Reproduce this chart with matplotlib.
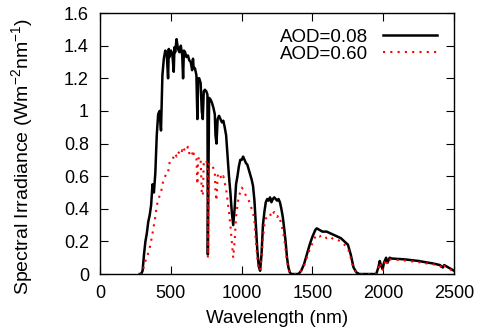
import matplotlib
matplotlib.use("Agg")
from matplotlib import pyplot as plt
from matplotlib.ticker import FuncFormatter

plt.rcParams['font.family'] = ['Liberation Sans', 'DejaVu Sans']
plt.rcParams['mathtext.fontset'] = 'custom'
plt.rcParams['mathtext.rm'] = 'Liberation Sans'
plt.rcParams['mathtext.it'] = 'Liberation Sans:italic'
plt.rcParams['mathtext.default'] = 'regular'

# AOD = 0.08
wl_clear = [280, 290, 300, 310, 320, 330, 340, 350, 360, 370, 380, 390, 400, 410, 420, 430, 440, 450,
            460, 470, 480, 485, 490, 500, 510, 520, 525, 530, 540, 550, 560, 570, 580, 586, 592, 600,
            610, 620, 630, 640, 650, 656, 660, 670, 680, 687, 692, 700, 710, 718, 725, 732, 740, 750,
            758, 761, 765, 770, 780, 790, 800, 810, 815, 822, 830, 840, 850, 860, 870, 880, 890, 900,
            910, 920, 930, 940, 950, 960, 970, 980, 990, 1000, 1010, 1020, 1030, 1040, 1050, 1060,
            1070, 1080, 1090, 1100, 1110, 1120, 1130, 1140, 1150, 1160, 1170, 1180, 1190, 1200, 1210,
            1220, 1230, 1240, 1250, 1260, 1270, 1280, 1290, 1300, 1310, 1320, 1330, 1340, 1350, 1400,
            1420, 1440, 1460, 1480, 1500, 1520, 1530, 1550, 1570, 1600, 1625, 1650, 1675, 1700, 1725,
            1750, 1770, 1790, 1810, 1830, 1950, 1965, 1975, 1985, 1995, 2005, 2020, 2030, 2045, 2060,
            2100, 2150, 2200, 2250, 2300, 2350, 2400, 2420, 2430, 2450, 2480, 2500]
irr_clear = [0, 0, 0.02, 0.12, 0.2, 0.25, 0.32, 0.36, 0.42, 0.55, 0.5, 0.62, 0.85, 0.98, 1.0, 0.88, 1.22, 1.32,
             1.37, 1.36, 1.2, 1.38, 1.33, 1.37, 1.35, 1.24, 1.39, 1.36, 1.44, 1.38, 1.36, 1.4, 1.34, 1.2, 1.37, 1.36,
             1.33, 1.34, 1.31, 1.3, 1.25, 1.32, 1.27, 1.26, 1.22, 0.95, 1.2, 1.2, 1.17, 1.0, 0.95, 1.12, 1.13, 1.12,
             1.1, 0.12, 0.6, 1.08, 1.07, 1.05, 1.02, 0.98, 0.85, 0.8, 0.95, 0.97, 0.95, 0.93, 0.94, 0.9, 0.85, 0.72,
             0.6, 0.5, 0.38, 0.3, 0.4, 0.55, 0.6, 0.66, 0.7, 0.7, 0.72, 0.7, 0.68, 0.67, 0.64, 0.61,
             0.58, 0.54, 0.45, 0.3, 0.15, 0.05, 0.02, 0.12, 0.3, 0.38, 0.44, 0.46, 0.45, 0.47, 0.44,
             0.46, 0.47, 0.46, 0.45, 0.46, 0.44, 0.4, 0.35, 0.28, 0.2, 0.1, 0.04, 0.01, 0, 0,
             0.02, 0.06, 0.12, 0.18, 0.23, 0.27, 0.28, 0.27, 0.26, 0.26, 0.25, 0.24, 0.23, 0.22, 0.2,
             0.18, 0.12, 0.04, 0.01, 0, 0, 0.04, 0.08, 0.05, 0.03, 0.07, 0.1, 0.07, 0.1, 0.095,
             0.093, 0.09, 0.085, 0.08, 0.072, 0.065, 0.055, 0.04, 0.055, 0.045, 0.03, 0.02]

# AOD = 0.60
wl_hazy = wl_clear
irr_hazy = [0, 0, 0.01, 0.05, 0.08, 0.1, 0.13, 0.16, 0.2, 0.25, 0.3, 0.35, 0.42, 0.45, 0.48, 0.5, 0.55, 0.58,
            0.6, 0.62, 0.62, 0.66, 0.68, 0.7, 0.7, 0.72, 0.73, 0.74, 0.72, 0.75, 0.74, 0.73, 0.76, 0.75, 0.77, 0.75,
            0.76, 0.78, 0.74, 0.75, 0.73, 0.76, 0.74, 0.72, 0.72, 0.55, 0.7, 0.72, 0.7, 0.5, 0.48, 0.68, 0.7, 0.69,
            0.68, 0.1, 0.4, 0.68, 0.67, 0.66, 0.65, 0.63, 0.5, 0.45, 0.6, 0.62, 0.6, 0.58, 0.6, 0.56, 0.52, 0.45,
            0.38, 0.3, 0.2, 0.1, 0.2, 0.35, 0.42, 0.48, 0.5, 0.53, 0.52, 0.5, 0.48, 0.47, 0.45, 0.43,
            0.4, 0.38, 0.32, 0.2, 0.1, 0.04, 0.02, 0.1, 0.22, 0.3, 0.34, 0.35, 0.36, 0.37, 0.35,
            0.37, 0.38, 0.36, 0.35, 0.36, 0.34, 0.3, 0.27, 0.22, 0.15, 0.08, 0.03, 0.01, 0, 0,
            0.02, 0.05, 0.1, 0.15, 0.19, 0.23, 0.24, 0.23, 0.24, 0.22, 0.23, 0.21, 0.21, 0.2, 0.18,
            0.16, 0.1, 0.03, 0.01, 0, 0, 0.03, 0.07, 0.04, 0.02, 0.06, 0.09, 0.06, 0.09, 0.088,
            0.087, 0.083, 0.078, 0.073, 0.066, 0.06, 0.05, 0.03, 0.05, 0.04, 0.025, 0.015]

fig = plt.figure(figsize=(4.79, 3.35), dpi=100)
ax = fig.add_axes([0.209, 0.182, 0.739, 0.779])

ax.plot(wl_clear, irr_clear, color="black", lw=1.8, label="AOD=0.08")
ax.plot(wl_hazy, irr_hazy, color="red", lw=1.5, ls=(0, (1, 2.5)), label="AOD=0.60")

ax.set_xlim(0, 2500)
ax.set_ylim(0, 1.6)
ax.set_xticks([0, 500, 1000, 1500, 2000, 2500])
ax.set_yticks([0, 0.2, 0.4, 0.6, 0.8, 1.0, 1.2, 1.4, 1.6])
ax.yaxis.set_major_formatter(FuncFormatter(lambda v, p: "%g" % round(v, 2)))
ax.tick_params(direction="in", top=True, right=True, length=6, labelsize=13, pad=8)
for s in ax.spines.values():
    s.set_linewidth(1.0)

ax.set_xlabel("Wavelength (nm)", fontsize=13.5, labelpad=6)
ax.set_ylabel("Spectral Irradiance (Wm$^{-2}$nm$^{-1}$)", fontsize=14)
ax.yaxis.set_label_coords(-0.185, 0.45)

ax.legend(loc="upper right", bbox_to_anchor=(0.99, 0.99), frameon=False, markerfirst=False,
          handlelength=2.9, handletextpad=0.8, fontsize=13.5, labelspacing=0.0, borderaxespad=0.3)

fig.savefig("out.png", dpi=100)
